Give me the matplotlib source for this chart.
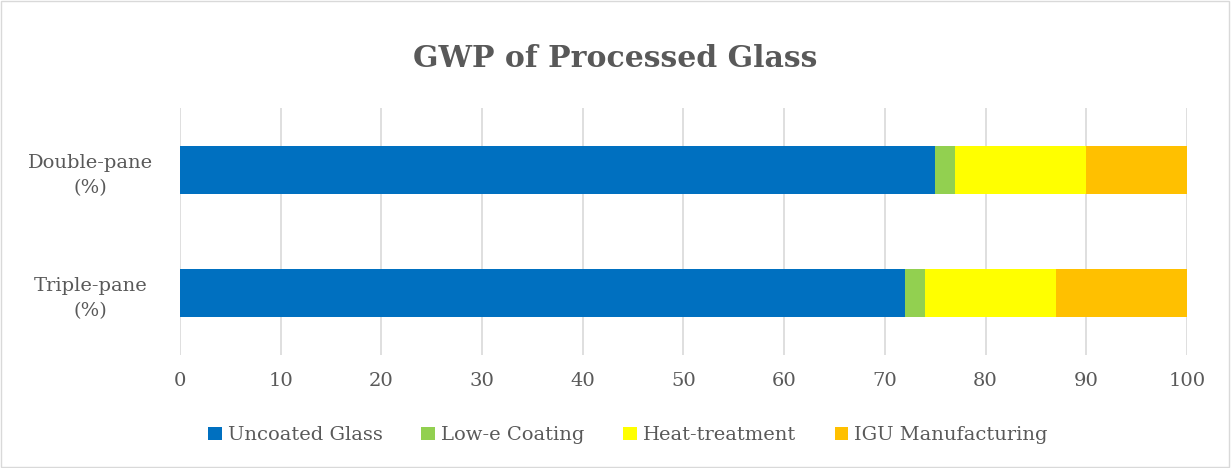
import matplotlib.pyplot as plt
import numpy as np

categorias = ["Triple-pane\n(%)", "Double-pane\n(%)"]
series = ["Uncoated Glass", "Low-e Coating", "Heat-treatment", "IGU Manufacturing"]
uncoated = [72, 75]
low_e = [2, 2]
heat = [13, 13]
igu = [13, 10]
cores = ["#0070C0", "#92D050", "#FFFF00", "#FFC000"]

plt.rcParams['font.family'] = ['DejaVu Serif']
texto = "#595959"

fig = plt.figure(figsize=(12.31, 4.68), dpi=100)
ax = fig.add_axes([0.1462, 0.2415, 0.818, 0.5275])

y = np.arange(len(categorias))
esquerda = np.zeros(len(categorias))
for nome, valores, cor in zip(series, [uncoated, low_e, heat, igu], cores):
    ax.barh(y, valores, left=esquerda, height=0.385, color=cor, label=nome, zorder=3)
    esquerda += np.array(valores)

ax.set_xlim(0, 100)
ax.set_ylim(-0.5, 1.5)
ax.set_xticks(np.arange(0, 101, 10))
ax.set_yticks(y)
ax.set_yticklabels(categorias, fontsize=14, color=texto, linespacing=1.5)
ax.tick_params(axis='x', labelsize=14, labelcolor=texto, length=0, pad=12)
ax.tick_params(axis='y', length=0, pad=10)
for lbl in ax.get_yticklabels():
    lbl.set_horizontalalignment('center')
    lbl.set_x(-0.075)
ax.grid(axis='x', color='#d9d9d9', linewidth=1.2, zorder=0)
for s in ax.spines.values():
    s.set_visible(False)

fig.suptitle("GWP of Processed Glass", fontsize=21.5, fontweight='bold', color=texto, y=0.905)

fig.legend(loc='center', bbox_to_anchor=(0.51, 0.07), ncol=4, frameon=False,
           fontsize=14, labelcolor=texto, handlelength=0.7, handleheight=0.7,
           handletextpad=0.3, columnspacing=2.0)

borda = plt.Rectangle((0.001, 0.002), 0.997, 0.995, transform=fig.transFigure,
                      fill=False, edgecolor='#d9d9d9', linewidth=1)
fig.patches.append(borda)

fig.savefig("out.png", dpi=100)
